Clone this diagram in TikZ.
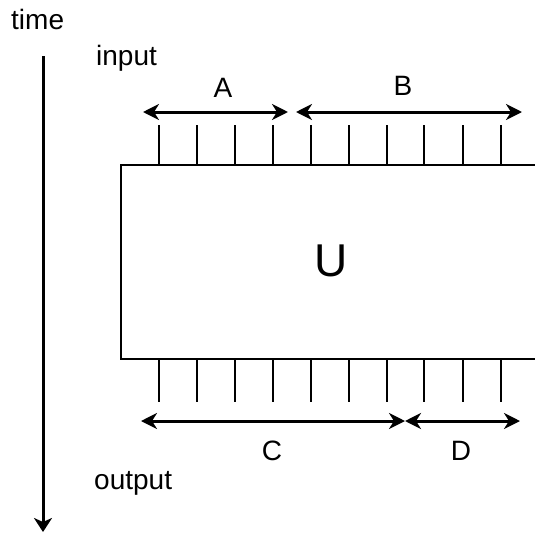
\documentclass[tikz,border=0pt]{standalone}
\usepackage{fontspec}
\setmainfont{Liberation Sans}
\usetikzlibrary{arrows.meta}
\begin{document}
\begin{tikzpicture}[x=1pt,y=-1pt,
  lbl/.style={font=\fontsize{28}{30}\selectfont, inner sep=0pt},
  tick/.style={line width=2pt},
  span/.style={line width=3pt, {Stealth[length=16pt,width=16pt,inset=5pt]}-{Stealth[length=16pt,width=16pt,inset=5pt]}},
  box/.style={draw, line width=2pt, rectangle, inner sep=0pt, anchor=north west}]
\useasboundingbox (0,0) rectangle (535,533);
\clip (0,0) rectangle (535,533);
\node[box, minimum width=430pt, minimum height=194pt] (U) at (120,164) {};
\node[lbl, font=\fontsize{46}{50}\selectfont, anchor=base] (ulabel) at (331,276) {U};
% time axis
\coordinate (t0) at (43,56);
\coordinate (t1) at (43,532);
\draw[line width=3pt, -{Stealth[length=14pt,width=18pt,inset=4pt]}] (t0) -- (t1);
\node[lbl, anchor=base west] (time) at (11,29) {time};
\node[lbl, anchor=base west] (input) at (96,65) {input};
\node[lbl, anchor=base west] (output) at (94,489) {output};
% ticks
\foreach \x in {159,197,235,273,311,349,387,424,463,501}{
  \draw[tick] (\x,125) -- (\x,164);
  \draw[tick] (\x,358) -- (\x,402);
}
% spans
\coordinate (a0) at (143,112); \coordinate (a1) at (288,112);
\coordinate (b0) at (296,112); \coordinate (b1) at (522,112);
\coordinate (c0) at (141,421); \coordinate (c1) at (405,421);
\coordinate (d0) at (405,421); \coordinate (d1) at (520,421);
\draw[span] (a0) -- (a1);
\draw[span] (b0) -- (b1);
\draw[span] (c0) -- (c1);
\draw[span] (d0) -- (d1);
\node[lbl, anchor=base] (A) at (223,97) {A};
\node[lbl, anchor=base] (B) at (403,95) {B};
\node[lbl, anchor=base] (C) at (272,460) {C};
\node[lbl, anchor=base] (D) at (461,460) {D};
\end{tikzpicture}
\end{document}
